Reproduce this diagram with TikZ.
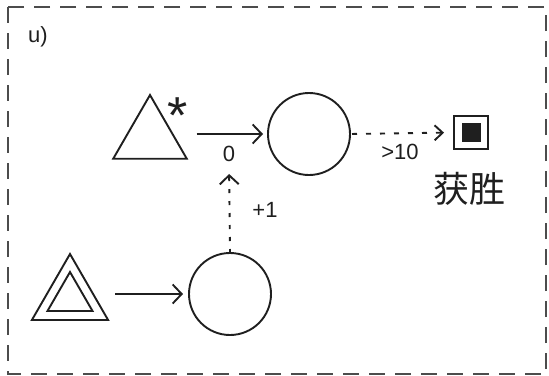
\documentclass[tikz,border=0pt]{standalone}
\usepackage{fontspec}
\setmainfont{Liberation Sans}
\newfontfamily\cjk{Noto Sans CJK SC}
\usetikzlibrary{shapes.geometric,arrows.meta}
\tikzset{
  ln/.style={line width=1.9pt, draw=black!88},
  tri/.style={ln, regular polygon, regular polygon sides=3, inner sep=0pt, outer sep=0pt},
  circ/.style={ln, circle, minimum size=82pt, inner sep=0pt, outer sep=0pt},
  arr/.style={ln, -{Straight Barb[length=9pt,width=19pt,line width=1.9pt]}},
  lbl/.style={inner sep=0pt, font=\fontsize{22}{26}\selectfont, text=black!88},
  border/.style={line width=1.6pt, draw=black!70, dash pattern=on 16pt off 10pt},
}
\begin{document}
\begin{tikzpicture}[x=1pt,y=-1pt]
\useasboundingbox (0,0) rectangle (549,375);
\draw[border] (8,7) rectangle (546,374);
\node[lbl] (u) at (38,37) {u)};
% top row
\node[tri, minimum size=85pt] (t1) at (150,137.5) {};
\node[inner sep=0pt, anchor=north, font=\fontsize{52}{52}\selectfont, text=black!88] (star) at (178,98) {*};
\node[circ] (c1) at (309,134) {};
\node[ln, rectangle, minimum width=34pt, minimum height=33pt, inner sep=0pt, outer sep=0pt] (win) at (471,132.5) {};
\node[fill=black!88, minimum size=19pt, inner sep=0pt] (wincore) at (win.center) {};
\node[inner sep=0pt, font=\cjk\fontsize{36}{38}\selectfont, text=black!88] (wintxt) at (469,189) {获胜};
% bottom row
\node[tri, minimum size=88pt] (t2o) at (70,298) {};
\node[tri, minimum size=52pt] (t2i) at (70,298) {};
\node[circ] (c2) at (230,294) {};
% labels
\node[lbl] (l0) at (229,154) {0};
\node[lbl] (l10) at (400,152) {>10};
\node[lbl] (l1) at (265,210) {+1};
% connectors
\draw[arr, shorten <=22pt, shorten >=5pt] (t1.east |- c1.west) -- (c1.west);
\draw[ln, dash pattern=on 5pt off 9pt, -{Straight Barb[length=8pt,width=15pt,line width=1.9pt]}, shorten <=2pt, shorten >=10pt] (c1.east) -- (win.west);
\draw[arr, shorten <=20pt, shorten >=6pt] (t2o.east |- c2.west) -- (c2.west);
\draw[arr, dash pattern=on 4pt off 8pt, shorten >=12pt] (c2.north) -- (l0.south);
\end{tikzpicture}
\end{document}
